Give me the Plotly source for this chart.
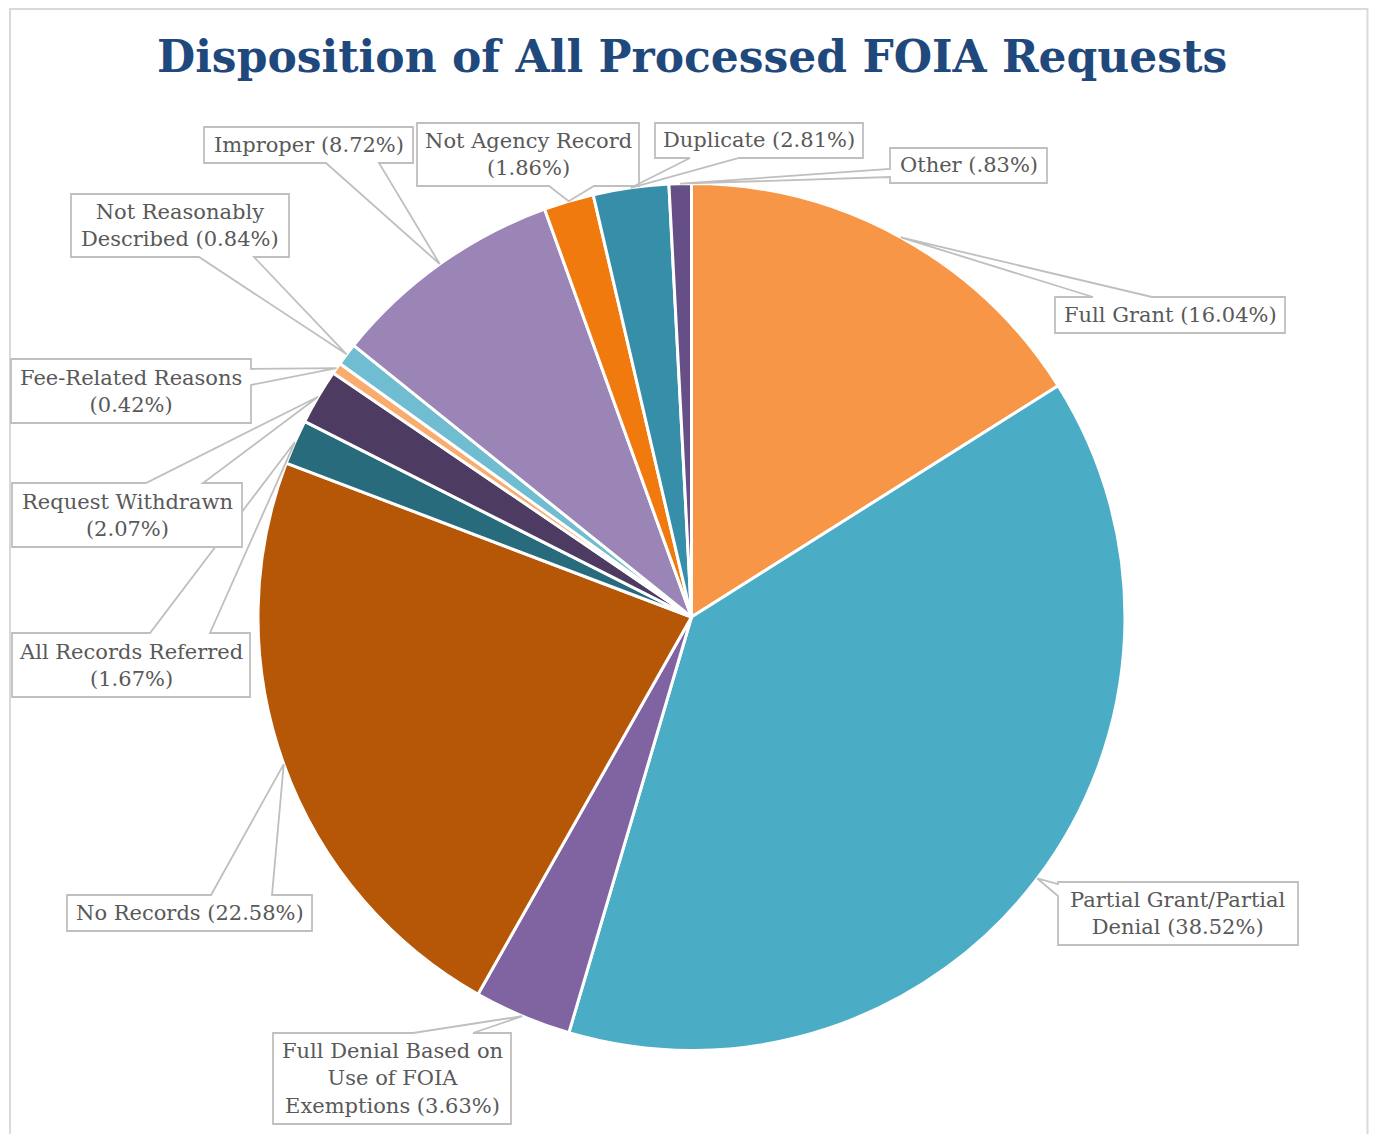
import math
import plotly.graph_objects as go

# ---------------- data ----------------
categories = [
    "Full Grant", "Partial Grant/Partial Denial", "Full Denial Based on Use of FOIA Exemptions",
    "No Records", "All Records Referred", "Request Withdrawn", "Fee-Related Reasons",
    "Not Reasonably Described", "Improper", "Not Agency Record", "Duplicate", "Other",
]
values = [16.04, 38.52, 3.63, 22.58, 1.67, 2.07, 0.42, 0.84, 8.72, 1.86, 2.81, 0.83]
label_texts = [
    "Full Grant (16.04%)",
    "Partial Grant/Partial<br>Denial (38.52%)",
    "Full Denial Based on<br>Use of FOIA<br>Exemptions (3.63%)",
    "No Records (22.58%)",
    "All Records Referred<br>(1.67%)",
    "Request Withdrawn<br>(2.07%)",
    "Fee-Related Reasons<br>(0.42%)",
    "Not Reasonably<br>Described (0.84%)",
    "Improper (8.72%)",
    "Not Agency Record<br>(1.86%)",
    "Duplicate (2.81%)",
    "Other (.83%)",
]
colors = ["#F79646", "#4BACC6", "#8064A2", "#B65708", "#276B7C", "#4D3B62",
          "#F9AC6E", "#70BDD1", "#9B84B6", "#F17A0E", "#378EA8", "#664F87"]

# ---------------- layout geometry (pixels, page coordinates) ----------------
OFF = 8  # default page body margin
W, H = 1377 - 2 * OFF, 1142 - 2 * OFF  # figure fits the window without scrollbars
CX, CY, R = 691.5, 617.0, 433.5

# label boxes: (x0, y0, x1, y1), pointer edge, pointer base positions along the edge
boxes = [
    ((1055, 297, 1285, 333), "top", (1093, 1152)),
    ((1058, 882, 1298, 945), "left", (884, 896)),
    ((273, 1033, 511, 1124), "top", (413, 473)),
    ((67, 895, 312, 931), "top", (211, 272)),
    ((12, 633, 250, 697), "top", (150, 210)),
    ((12, 483, 242, 547), "top", (146, 203)),
    ((11, 359, 251, 423), "right", (369, 385)),
    ((71, 194, 289, 257), "bottom", (199, 254)),
    ((204, 127, 413, 163), "bottom", (326, 379)),
    ((417, 123, 639, 186), "bottom", (549, 594)),
    ((655, 123, 863, 158), "bottom", (690, 739)),
    ((890, 148, 1047, 183), "left", (169, 177)),
]


def px(x):
    return (x - OFF) / W


def py(y):
    return 1 - (y - OFF) / H


def pt(x, y):
    return f"{px(x):.5f},{py(y):.5f}"


fig = go.Figure()
fig.add_trace(go.Pie(
    labels=categories, values=values, sort=False, direction="clockwise", rotation=0,
    marker=dict(colors=colors, line=dict(color="white", width=3)),
    textinfo="none", showlegend=False, hoverinfo="label+percent",
    domain=dict(x=[px(CX - R), px(CX + R)], y=[py(CY + R), py(CY - R)]),
))

total = sum(values)
shapes = []
annotations = []
cum = 0.0
for val, txt, (box, edge, base) in zip(values, label_texts, boxes):
    mid = (cum + val / 2) / total
    cum += val
    ang = 2 * math.pi * mid
    tx = CX + R * math.sin(ang)
    ty = CY - R * math.cos(ang)
    x0, y0, x1, y1 = box
    b1, b2 = base
    if edge == "top":
        pts = [(x0, y0), (b1, y0), (tx, ty), (b2, y0), (x1, y0), (x1, y1), (x0, y1)]
    elif edge == "bottom":
        pts = [(x0, y0), (x1, y0), (x1, y1), (b2, y1), (tx, ty), (b1, y1), (x0, y1)]
    elif edge == "left":
        pts = [(x0, y0), (x1, y0), (x1, y1), (x0, y1), (x0, b2), (tx, ty), (x0, b1)]
    else:
        pts = [(x0, y0), (x1, y0), (x1, b1), (tx, ty), (x1, b2), (x1, y1), (x0, y1)]
    path = "M " + " L ".join(pt(a, b) for a, b in pts) + " Z"
    shapes.append(dict(type="path", path=path, xref="paper", yref="paper",
                       fillcolor="white", line=dict(color="#BFBFBF", width=1.8),
                       layer="above"))
    annotations.append(dict(
        x=px((x0 + x1) / 2), y=py((y0 + y1) / 2), xref="paper", yref="paper",
        text=txt, showarrow=False, xanchor="center", yanchor="middle", align="center",
        font=dict(family="DejaVu Serif", size=21, color="#595959"),
    ))

# outer chart border
shapes.insert(0, dict(type="rect", xref="paper", yref="paper",
                      x0=px(10), x1=px(1367.5), y0=-0.05, y1=py(9),
                      line=dict(color="#D9D9D9", width=2), fillcolor="rgba(0,0,0,0)",
                      layer="below"))

annotations.append(dict(
    x=px(692), y=py(56), xref="paper", yref="paper",
    text="<b>Disposition of All Processed FOIA Requests</b>", showarrow=False,
    xanchor="center", yanchor="middle",
    font=dict(family="DejaVu Serif", size=44, color="#1F497D"),
))

fig.update_layout(
    width=W, height=H, margin=dict(l=0, r=0, t=0, b=0),
    paper_bgcolor="white", plot_bgcolor="white",
    shapes=shapes, annotations=annotations, showlegend=False,
)

fig.write_html("out.html")
